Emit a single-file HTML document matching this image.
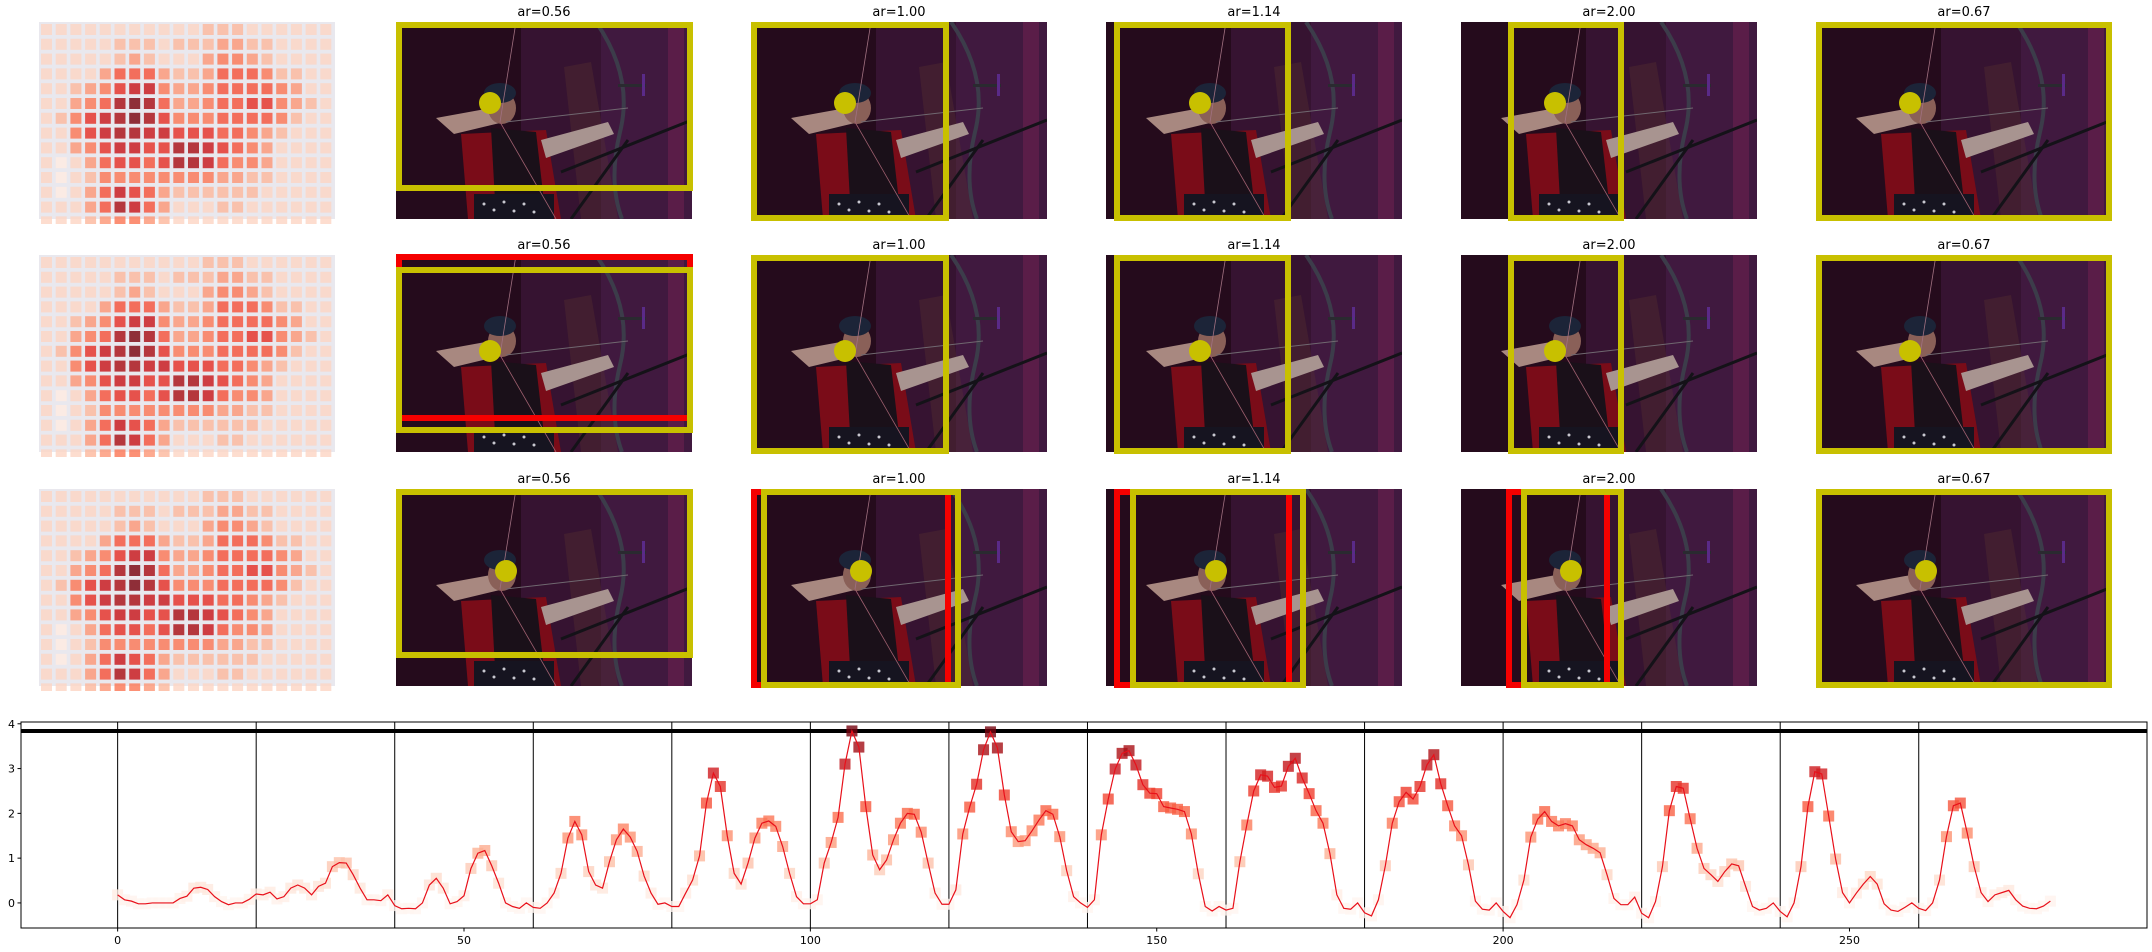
<!DOCTYPE html>
<html><head><meta charset="utf-8"><style>
html,body{margin:0;padding:0;background:#fff;}
svg{display:block;font-family:"DejaVu Sans","Liberation Sans",sans-serif;}
</style></head><body>
<svg id="root" width="2152" height="952" viewBox="0 0 2152 952" xmlns="http://www.w3.org/2000/svg">
<defs>
<clipPath id="photoClip"><rect x="0" y="0" width="296" height="197"/></clipPath>
<clipPath id="heatClip"><rect x="0" y="0" width="296" height="202"/></clipPath>
</defs>
<g id="panels"></g>
<g id="chart"></g>
</svg>
<script>
// ---- chart data ----
const scores = [
0.18,0.07,0.04,-0.02,-0.02,0,0,0,0,0.1,0.15,0.33,0.35,0.3,0.14,0.03,-0.04,0,0,0.08,0.2,
0.18,0.24,0.09,0.14,0.33,0.4,0.33,0.18,0.37,0.44,0.81,0.9,0.89,0.63,0.33,0.07,0.07,0.05,0.18,-0.06,
-0.13,-0.12,-0.13,0,0.4,0.55,0.33,-0.02,0.03,0.16,0.77,1.11,1.17,0.83,0.44,0,-0.08,-0.12,0,-0.1,
-0.12,0,0.22,0.66,1.45,1.82,1.52,0.7,0.4,0.33,0.92,1.41,1.65,1.47,1.15,0.6,0.22,-0.03,0,-0.08,
-0.08,0.22,0.51,1.05,2.23,2.9,2.6,1.5,0.66,0.42,0.89,1.45,1.78,1.83,1.71,1.26,0.66,0.14,-0.02,-0.02,
0.07,0.89,1.35,1.91,3.1,3.84,3.48,2.15,1.07,0.74,0.96,1.41,1.78,2.0,1.98,1.58,0.89,0.22,-0.03,-0.03,
0.29,1.54,2.14,2.65,3.42,3.82,3.46,2.41,1.59,1.37,1.39,1.61,1.85,2.06,1.98,1.48,0.72,0.14,0,-0.1,
0.07,1.52,2.32,2.99,3.34,3.4,3.08,2.64,2.45,2.44,2.15,2.12,2.09,2.04,1.54,0.65,-0.08,-0.18,-0.08,-0.16,
-0.12,0.92,1.74,2.5,2.86,2.83,2.58,2.61,3.05,3.23,2.79,2.44,2.06,1.78,1.1,0.18,-0.12,-0.14,0,-0.22,
-0.29,0.07,0.83,1.78,2.26,2.47,2.32,2.6,3.08,3.31,2.66,2.17,1.72,1.5,0.85,0.04,-0.14,-0.16,0,-0.19,
-0.33,-0.04,0.51,1.47,1.87,2.04,1.82,1.72,1.77,1.72,1.41,1.3,1.22,1.12,0.63,0.1,-0.04,-0.04,0.13,-0.23,
-0.33,0.03,0.81,2.06,2.6,2.56,1.88,1.22,0.77,0.63,0.48,0.7,0.87,0.83,0.37,-0.08,-0.16,-0.12,0,-0.19,
-0.31,0,0.81,2.15,2.93,2.88,1.94,0.98,0.23,0,0.22,0.42,0.59,0.42,-0.02,-0.16,-0.19,-0.1,0,-0.12,
-0.17,0,0.51,1.48,2.17,2.23,1.56,0.81,0.23,0.03,0.18,0.23,0.28,0.07,-0.07,-0.12,-0.13,-0.07,0.04];
const segmentStarts = [0,20,40,60,80,100,120,140,160,180,200,220,240,260];
const xTicks = [0,50,100,150,200,250];
const yTicks = [0,1,2,3,4];
const thresholdValue = 3.84;
// heatmap levels (0-9)
const heatLevels = [
[1,1,1,1,1,1,1,1,1,1,1,2,2,2,1,1,1,1,1,1],
[1,1,1,1,1,2,2,2,1,2,2,2,3,3,2,2,1,1,1,1],
[1,1,1,1,1,2,3,2,1,1,1,3,4,4,3,2,1,1,1,1],
[1,1,1,1,3,5,5,5,3,2,2,3,5,5,5,4,2,2,1,1],
[1,1,2,3,4,6,7,7,4,3,3,4,5,5,5,5,4,3,1,1],
[1,1,3,4,5,8,9,8,5,3,3,4,5,5,6,6,4,3,2,1],
[1,2,4,6,7,8,9,8,6,4,4,4,5,5,5,5,4,2,1,1],
[1,1,4,6,7,8,8,7,7,6,6,6,5,5,4,3,2,1,1,1],
[1,1,3,4,6,7,7,6,6,8,8,7,6,5,4,3,1,1,1,1],
[1,0,1,3,5,6,6,5,6,8,8,7,5,4,4,3,1,1,1,1],
[1,0,1,2,4,4,4,4,4,4,4,4,3,3,2,2,1,1,1,1],
[1,0,1,3,5,7,6,5,3,2,2,2,2,2,2,1,1,1,1,1],
[1,1,1,3,5,8,7,5,3,1,1,1,2,2,1,1,1,1,1,1],
[1,1,1,2,3,4,4,3,2,1,1,1,1,1,1,1,1,1,1,1]];
const titles = ["ar=0.56","ar=1.00","ar=1.14","ar=2.00","ar=0.67"];

const NS="http://www.w3.org/2000/svg";
function mk(tag, attrs, parent){const e=document.createElementNS(NS,tag);for(const k in attrs)e.setAttribute(k,attrs[k]);if(parent)parent.appendChild(e);return e;}
const REDS=[[255,245,240],[254,224,210],[252,187,161],[252,146,114],[251,106,74],[239,59,44],[203,24,29],[165,15,21],[103,0,13]];
function reds(t){t=Math.max(0,Math.min(1,t));const p=t*8,i=Math.min(7,Math.floor(p)),f=p-i;const a=REDS[i],b=REDS[i+1];return `rgb(${Math.round(a[0]+(b[0]-a[0])*f)},${Math.round(a[1]+(b[1]-a[1])*f)},${Math.round(a[2]+(b[2]-a[2])*f)})`;}

// ---- panels ----
const panels=document.getElementById('panels');
const rowTops=[22,255,489];
const colLefts=[396,751,1106,1461,1816];
const YEL="#c8c000", RED="#f50000";
const boxSpecs=[
 [[{c:YEL,x0:0,x1:297,y0:0,y1:169}],[{c:YEL,x0:0,x1:198,y0:0,y1:199}],[{c:YEL,x0:8,x1:185,y0:0,y1:199}],[{c:YEL,x0:47,x1:163,y0:0,y1:199}],[{c:YEL,x0:0,x1:296,y0:0,y1:199}]],
 [[{c:RED,x0:0,x1:297,y0:-1,y1:166},{c:YEL,x0:0,x1:297,y0:12,y1:178}],[{c:YEL,x0:0,x1:198,y0:0,y1:199}],[{c:YEL,x0:8,x1:185,y0:0,y1:199}],[{c:YEL,x0:47,x1:163,y0:0,y1:199}],[{c:YEL,x0:0,x1:296,y0:0,y1:199}]],
 [[{c:YEL,x0:0,x1:297,y0:0,y1:169}],[{c:RED,x0:0,x1:200,y0:0,y1:199},{c:YEL,x0:10,x1:210,y0:0,y1:199}],[{c:RED,x0:8,x1:186,y0:0,y1:199},{c:YEL,x0:24,x1:200,y0:0,y1:199}],[{c:RED,x0:45,x1:149,y0:0,y1:199},{c:YEL,x0:60,x1:163,y0:0,y1:199}],[{c:YEL,x0:0,x1:296,y0:0,y1:199}]]];
const faceSpots=[[94,81],[94,96],[110,82]];

const photoSVG=`
<rect x="0" y="0" width="296" height="197" fill="#2e0f26"/>
<rect x="0" y="0" width="125" height="197" fill="#250b1c"/>
<rect x="125" y="0" width="80" height="197" fill="#361331"/>
<rect x="205" y="0" width="91" height="197" fill="#40193f"/>
<rect x="272" y="0" width="16" height="197" fill="#5a1d48"/>
<polygon points="168,45 195,40 222,197 185,197" fill="#5a3530" opacity="0.35"/>
<polygon points="40,96 95,86 108,100 58,112" fill="#a88880"/>
<ellipse cx="106" cy="86" rx="14" ry="16" fill="#8a6058"/>
<ellipse cx="104" cy="71" rx="16" ry="10" fill="#1c2438"/>
<polygon points="65,112 150,108 165,197 72,197" fill="#7a0c18"/>
<polygon points="95,106 140,110 150,197 100,197" fill="#1a1019"/>
<polygon points="145,118 212,100 218,112 150,136" fill="#a89490"/>
<rect x="78" y="172" width="80" height="25" fill="#161420"/>
<g fill="#c8c8d0"><circle cx="88" cy="182" r="1.5"/><circle cx="98" cy="188" r="1.5"/><circle cx="108" cy="180" r="1.5"/><circle cx="118" cy="189" r="1.5"/><circle cx="128" cy="182" r="1.5"/><circle cx="138" cy="190" r="1.5"/></g>
<path d="M200,0 Q238,55 224,110 Q212,160 226,197" stroke="#3c3c4a" stroke-width="4" fill="none"/>
<rect x="222" y="62" width="28" height="3" fill="#2a2a30"/>
<rect x="246" y="52" width="3" height="22" fill="#5a2a88"/>
<line x1="165" y1="150" x2="296" y2="98" stroke="#141218" stroke-width="3"/>
<line x1="175" y1="197" x2="232" y2="118" stroke="#141218" stroke-width="3"/>
<line x1="120" y1="0" x2="104" y2="100" stroke="#a07080" stroke-width="0.8"/>
<line x1="110" y1="100" x2="232" y2="86" stroke="#706870" stroke-width="1"/>
<line x1="104" y1="100" x2="160" y2="197" stroke="#a06070" stroke-width="0.8"/>`;

function drawHeatmap(g){
  mk('rect',{x:0,y:0,width:296,height:197,fill:"#e9e8ee"},g);
  for(let r=0;r<heatLevels.length;r++){
    for(let c=0;c<heatLevels[r].length;c++){
      const lv=heatLevels[r][c];
      const cell=mk('rect',{x:(2+c*14.7).toFixed(1),y:(2+r*14.8).toFixed(1),width:11,height:11,fill:reds(0.06+lv/9*0.9),'fill-opacity':0.82},g);
      
      
    }
  }
}

for(let r=0;r<3;r++){
  const hg=mk('g',{transform:`translate(39,${rowTops[r]})`,'clip-path':'url(#heatClip)'},panels);
  
  
  drawHeatmap(hg);
  for(let c=0;c<5;c++){
    const px=colLefts[c], py=rowTops[r];
    const pg=mk('g',{transform:`translate(${px},${py})`},panels);
    
    
    const t=mk('text',{x:148,y:-6,'text-anchor':'middle','font-size':13,fill:'#000'},pg);
    t.textContent=titles[c];
    
    
    const ph=mk('g',{'clip-path':'url(#photoClip)'},pg);
    
    
    ph.innerHTML=photoSVG;
    const fs=faceSpots[r];
    const dot=mk('circle',{cx:fs[0],cy:fs[1],r:11,fill:YEL},pg);
    
    
    for(const b of boxSpecs[r][c]){
      const bx=mk('rect',{x:b.x0+3,y:b.y0+3,width:b.x1-b.x0-6,height:b.y1-b.y0-6,fill:'none',stroke:b.c,'stroke-width':6},pg);
      
      
    }
  }
}

// ---- chart ----
const chart=document.getElementById('chart');
const AX={l:21,r:2147,t:722,b:928};
const xMin=-13.95, xMax=292.95, yMin=-0.56, yMax=4.04;
const xs=v=>AX.l+(v-xMin)/(xMax-xMin)*(AX.r-AX.l);
const ys=v=>AX.b-(v-yMin)/(yMax-yMin)*(AX.b-AX.t);

for(const s of segmentStarts){
  const l=mk('line',{x1:xs(s),x2:xs(s),y1:AX.t,y2:AX.b,stroke:'#000','stroke-width':1},chart);
  
  
}
const th=mk('line',{x1:AX.l,x2:AX.r,y1:ys(thresholdValue),y2:ys(thresholdValue),stroke:'#000','stroke-width':4},chart);



for(let i=0;i<scores.length;i++){
  const v=scores[i];
  const m=mk('rect',{x:xs(i)-5.5,y:ys(v)-5.5,width:11,height:11,fill:reds(v/3.95),'fill-opacity':0.8},chart);
  
  
}
const pts=scores.map((v,i)=>xs(i).toFixed(2)+','+ys(v).toFixed(2)).join(' ');
const pl=mk('polyline',{points:pts,fill:'none',stroke:'#e8101a','stroke-width':1.2},chart);



const frame=mk('rect',{x:AX.l,y:AX.t,width:AX.r-AX.l,height:AX.b-AX.t,fill:'none',stroke:'#000','stroke-width':1},chart);



for(const t of xTicks){
  mk('line',{x1:xs(t),x2:xs(t),y1:AX.b,y2:AX.b+3.5,stroke:'#000'},chart);
  const tx=mk('text',{x:xs(t),y:AX.b+16,'text-anchor':'middle','font-size':11,fill:'#000'},chart);
  tx.textContent=t;
  
  
}
for(const t of yTicks){
  mk('line',{x1:AX.l-3.5,x2:AX.l,y1:ys(t),y2:ys(t),stroke:'#000'},chart);
  const ty=mk('text',{x:AX.l-6,y:ys(t)+4,'text-anchor':'end','font-size':11,fill:'#000'},chart);
  ty.textContent=t;
  
  
}
</script>
</body></html>
